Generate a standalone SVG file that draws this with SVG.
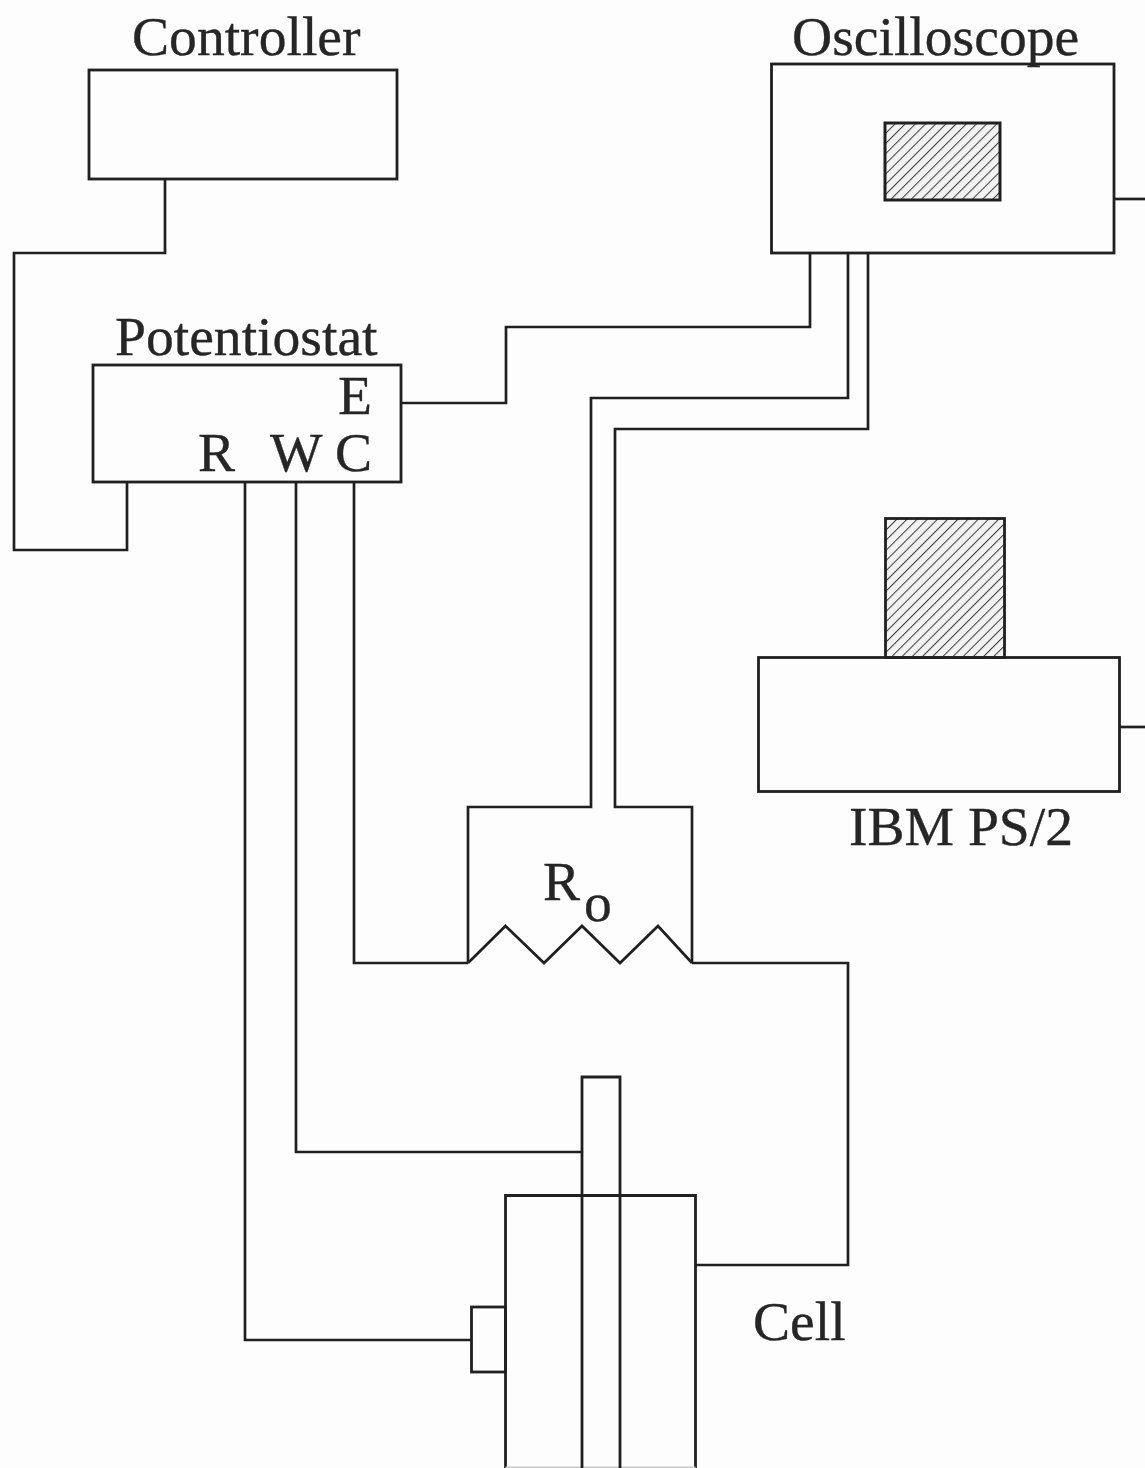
<svg xmlns="http://www.w3.org/2000/svg" width="1145" height="1468" viewBox="0 0 1145 1468">
<style>
.b{fill:none;stroke:#202020;stroke-width:2.8}
.w{stroke:#202020;stroke-width:2.7;fill:none;stroke-linejoin:miter}
.f{stroke:#c8c8c8;stroke-width:1.5;fill:none}
text{font-family:"Liberation Serif","Times New Roman",serif;font-size:55.6px;fill:#262626;stroke:#262626;stroke-width:0.35}
</style>
<defs>
<pattern id="hatch" width="7.2" height="7.2" patternUnits="userSpaceOnUse" patternTransform="rotate(45)">
<rect width="7.2" height="7.2" fill="#f2f2f2"/>
<line x1="0" y1="0" x2="0" y2="7.2" stroke="#3a3a3a" stroke-width="2"/>
</pattern>
</defs>
<rect width="1145" height="1468" fill="#fdfdfd"/>
<g id="connectors">
<path class="w" d="M165 179V253H14V550H127V482"/>
<path class="w" d="M401 403H506V327H810V253"/>
<path class="w" d="M848 253V398H591V807H468V963"/>
<path class="w" d="M868 253V429H615V807H692V963"/>
<path class="w" d="M354 482V963H468"/>
<path class="w" d="M692 963H848V1265H695"/>
<path class="w" d="M296 482V1152H582"/>
<path class="w" d="M245 482V1340H471"/>
<path class="w" d="M1114 199H1145"/>
<path class="w" d="M1119 727H1145"/>
</g>
<g id="controller">
<rect class="b" x="89" y="70" width="308" height="109"/>
<text x="132" y="55">Controller</text>
</g>
<g id="oscilloscope">
<rect class="b" x="771.5" y="64" width="342.500" height="189"/>
<rect x="885" y="123" width="115" height="77" fill="url(#hatch)" stroke="#202020" stroke-width="3"/>
<text x="792" y="55">Oscilloscope</text>
</g>
<g id="potentiostat">
<rect class="b" x="93" y="365" width="308" height="117"/>
<text x="115" y="355">Potentiostat</text>
<text x="338" y="414">E</text>
<text x="198" y="471">R</text>
<text x="270" y="471">W</text>
<text x="335" y="471">C</text>
</g>
<g id="ibm-ps2">
<rect x="885.500" y="518.500" width="119" height="139" fill="url(#hatch)" stroke="#202020" stroke-width="2.8"/>
<rect class="b" x="758.500" y="657.500" width="361" height="134"/>
<text x="849" y="845">IBM PS/2</text>
</g>
<g id="resistor">
<path class="w" d="M468 963L505.500 926L544 963L582 926L620 963L658 926L692 963"/>
<text x="543" y="900">R</text>
<text x="584" y="921">o</text>
</g>
<g id="cell">
<path class="b" d="M505.500 1468V1195.500H695.500V1468"/>
<path class="f" d="M505.500 1467.200H695.500"/>
<rect class="b" x="471.500" y="1307" width="34" height="65"/>
<path class="b" d="M582 1468V1077H620V1468"/>
<text x="753" y="1340">Cell</text>
</g>
</svg>
